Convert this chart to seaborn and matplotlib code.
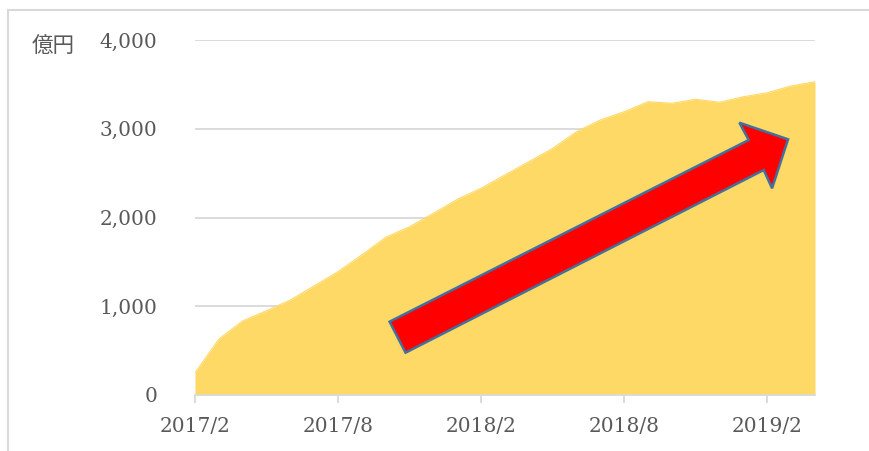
import numpy as np
import pandas as pd
import seaborn as sns
import matplotlib.pyplot as plt
from matplotlib.patches import Polygon, Rectangle

# monthly balance (億円)
months = ["2017/2", "2017/3", "2017/4", "2017/5", "2017/6", "2017/7", "2017/8",
          "2017/9", "2017/10", "2017/11", "2017/12", "2018/1", "2018/2",
          "2018/3", "2018/4", "2018/5", "2018/6", "2018/7", "2018/8",
          "2018/9", "2018/10", "2018/11", "2018/12", "2019/1", "2019/2",
          "2019/3", "2019/4"]
values = [250, 630, 835, 950, 1070, 1230, 1390,
          1580, 1777, 1897, 2047, 2205, 2330,
          2480, 2629, 2779, 2967, 3099, 3192,
          3305, 3287, 3332, 3298, 3361, 3406,
          3482, 3530]
yticks = [0, 1000, 2000, 3000, 4000]
tick_every = 6

df = pd.DataFrame({"month": months, "value": values})
df["i"] = np.arange(len(df))

sns.set_theme(style="white")
plt.rcParams["font.family"] = ["DejaVu Serif", "Noto Sans CJK JP"]

gray = "#D9D9D9"
textc = "#595959"
fill = "#FFD966"

fig = plt.figure(figsize=(8.7, 4.51), dpi=100)
ax = fig.add_axes([195 / 870, 56 / 451, 620 / 870, 355 / 451])

ax.fill_between(df["i"], df["value"], 0, color=fill, linewidth=0, zorder=2)
sns.lineplot(data=df, x="i", y="value", color=fill, linewidth=0.8, ax=ax, zorder=2)

ax.set_xlim(0, len(df) - 1)
ax.set_ylim(0, 4000)
ax.set_yticks(yticks)
ax.set_yticklabels([f"{v:,}" for v in yticks])
xt = df["i"][::tick_every]
ax.set_xticks(xt)
ax.set_xticklabels(df["month"][::tick_every])
ax.set_xlabel("")
ax.set_ylabel("")

ax.grid(axis="y", color=gray, linewidth=1.3, zorder=1)
ax.set_axisbelow(True)
for s in ["left", "right", "top"]:
    ax.spines[s].set_visible(False)
ax.spines["bottom"].set_color(gray)
ax.spines["bottom"].set_linewidth(1.3)
ax.spines["bottom"].set_zorder(3)
ax.tick_params(axis="x", bottom=True, length=6, width=1.3, color=gray,
               labelsize=14.5, labelcolor=textc, pad=10)
ax.tick_params(axis="y", left=False, labelsize=14.5, labelcolor=textc, pad=21)

# unit label
fig.text(32 / 870, 1 - 47 / 451, "億円", fontsize=15.5, color=textc,
         family=["Noto Sans CJK JP", "DejaVu Sans"], va="center", ha="left")

# red arrow (month index, value)
arrow_pts = [(8.83, 477), (8.16, 826), (23.22, 2873), (22.83, 3068),
             (24.87, 2881), (24.20, 2329), (23.85, 2535)]
ax.add_patch(Polygon(arrow_pts, closed=True, facecolor="#FF0000",
                     edgecolor="#41719C", linewidth=1.8, zorder=5))

# frame of the slide
fig.add_artist(Rectangle((8 / 870, -0.1), 1.2, 1 - 10 / 451 + 0.1,
                         transform=fig.transFigure, fill=False,
                         edgecolor=gray, linewidth=1.5))

fig.savefig("out.png", dpi=100)
